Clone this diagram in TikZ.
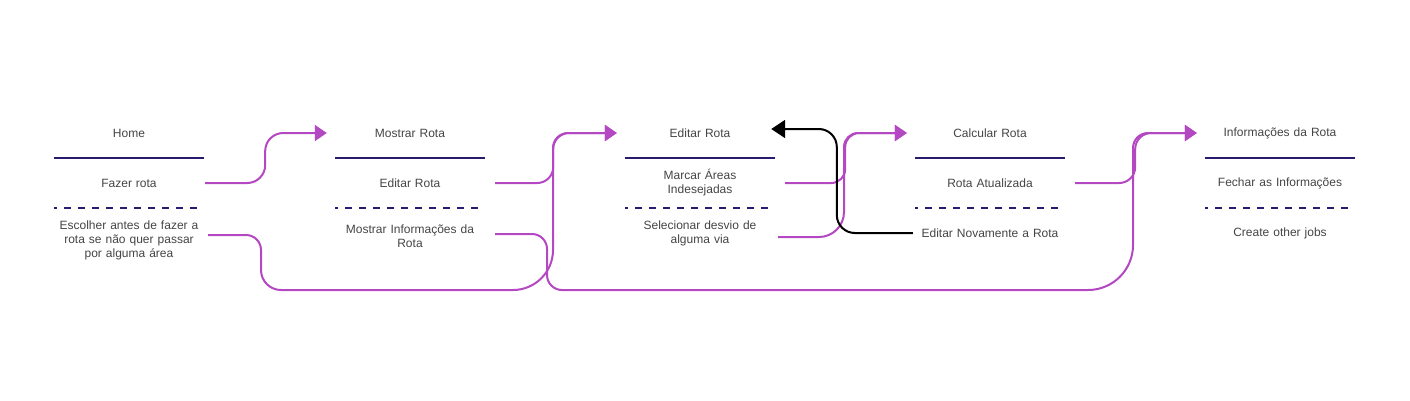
\documentclass[tikz,border=0pt]{standalone}
\usepackage{fontspec}
\setmainfont{Liberation Sans}
\usetikzlibrary{arrows.meta}
\definecolor{ink}{HTML}{2A1A6E}
\definecolor{flow}{HTML}{B447C2}
\definecolor{txt}{HTML}{444444}
\begin{document}
\begin{tikzpicture}[x=1pt,y=-1pt,
  cell/.style={text width=150pt, align=center, inner sep=0pt, font=\fontsize{12}{14}\selectfont, text=txt},
  sepline/.style={draw=ink, line width=2pt},
  dashline/.style={draw=ink, line width=2pt, dash pattern=on 7pt off 7pt, dash phase=4pt},
  conn/.style={draw=flow, line width=2pt, -{Triangle[length=12pt,width=16pt]}},
  back/.style={draw=black, line width=2pt, -{Triangle[length=14pt,width=18pt]}}]
\useasboundingbox (0,0) rectangle (1410,400);

% column 1
\node[cell] (home) at (129,133) {Home};
\node[cell] (fazer) at (129,183) {Fazer rota};
\node[cell] (escolher) at (129,240) {Escolher antes de fazer a\\rota se não quer passar\\por alguma área};
% column 2
\node[cell] (mostrar) at (410,133) {Mostrar Rota};
\node[cell] (editarb) at (410,183) {Editar Rota};
\node[cell] (infob) at (410,236) {Mostrar Informações da\\Rota};
% column 3
\node[cell] (editar) at (700,133) {Editar Rota};
\node[cell] (marcar) at (700,183) {Marcar Áreas\\Indesejadas};
\node[cell] (desvio) at (700,233) {Selecionar desvio de\\alguma via};
% column 4
\node[cell] (calc) at (990,133) {Calcular Rota};
\node[cell] (atual) at (990,183) {Rota Atualizada};
\node[cell] (novamente) at (990,233) {Editar Novamente a Rota};
% column 5
\node[cell] (infos) at (1280,133) {Informações da Rota};
\node[cell] (fechar) at (1280,183) {Fechar as Informações};
\node[cell] (jobs) at (1280,233) {Create other jobs};

% separators
\foreach \x in {54,335,625,915,1205}{
  \draw[sepline] (\x,157.5) -- ++(150,0);
  \draw[dashline] (\x,207.5) -- ++(150,0);
}

% connectors
\draw[conn, rounded corners=18pt] ([xshift=1pt]fazer.east) -- ++(60,0) |- ([xshift=-8pt]mostrar.west);
\draw[conn] ([xshift=4pt,yshift=5pt]escolher.east) [rounded corners=15pt] -- (261,235) [rounded corners=20pt] -- (261,290) [rounded corners=40pt] -- (553,290) [rounded corners=15pt] -- (553,133) -- ([xshift=-8pt]editar.west);
\draw[conn, rounded corners=16pt] ([xshift=10pt]editarb.east) -- ++(58,0) |- ([xshift=-8pt]editar.west);
\draw[conn] ([xshift=10pt,yshift=2pt]infob.east) [rounded corners=15pt] -- (547,234) [rounded corners=15pt] -- (547,290) [rounded corners=45pt] -- (1133,290) [rounded corners=15pt] -- (1133,133) -- ([xshift=-8pt]infos.west);
\draw[conn, rounded corners=14pt] ([xshift=10pt]marcar.east) -- ++(60,0) |- ([xshift=-8pt]calc.west);
\draw[conn] ([xshift=3pt,yshift=-4pt]desvio.east) [rounded corners=25pt] -- (844,237) [rounded corners=14pt] -- (844,133) -- ([xshift=-8pt]calc.west);
\draw[conn, rounded corners=16pt] ([xshift=10pt]atual.east) -- ++(60,0) |- ([xshift=-8pt]infos.west);
\draw[back, rounded corners=18pt] ([xshift=-2pt]novamente.west) -- ++(-76,0) |- ([xshift=-4pt,yshift=4pt]editar.east);
\end{tikzpicture}
\end{document}
